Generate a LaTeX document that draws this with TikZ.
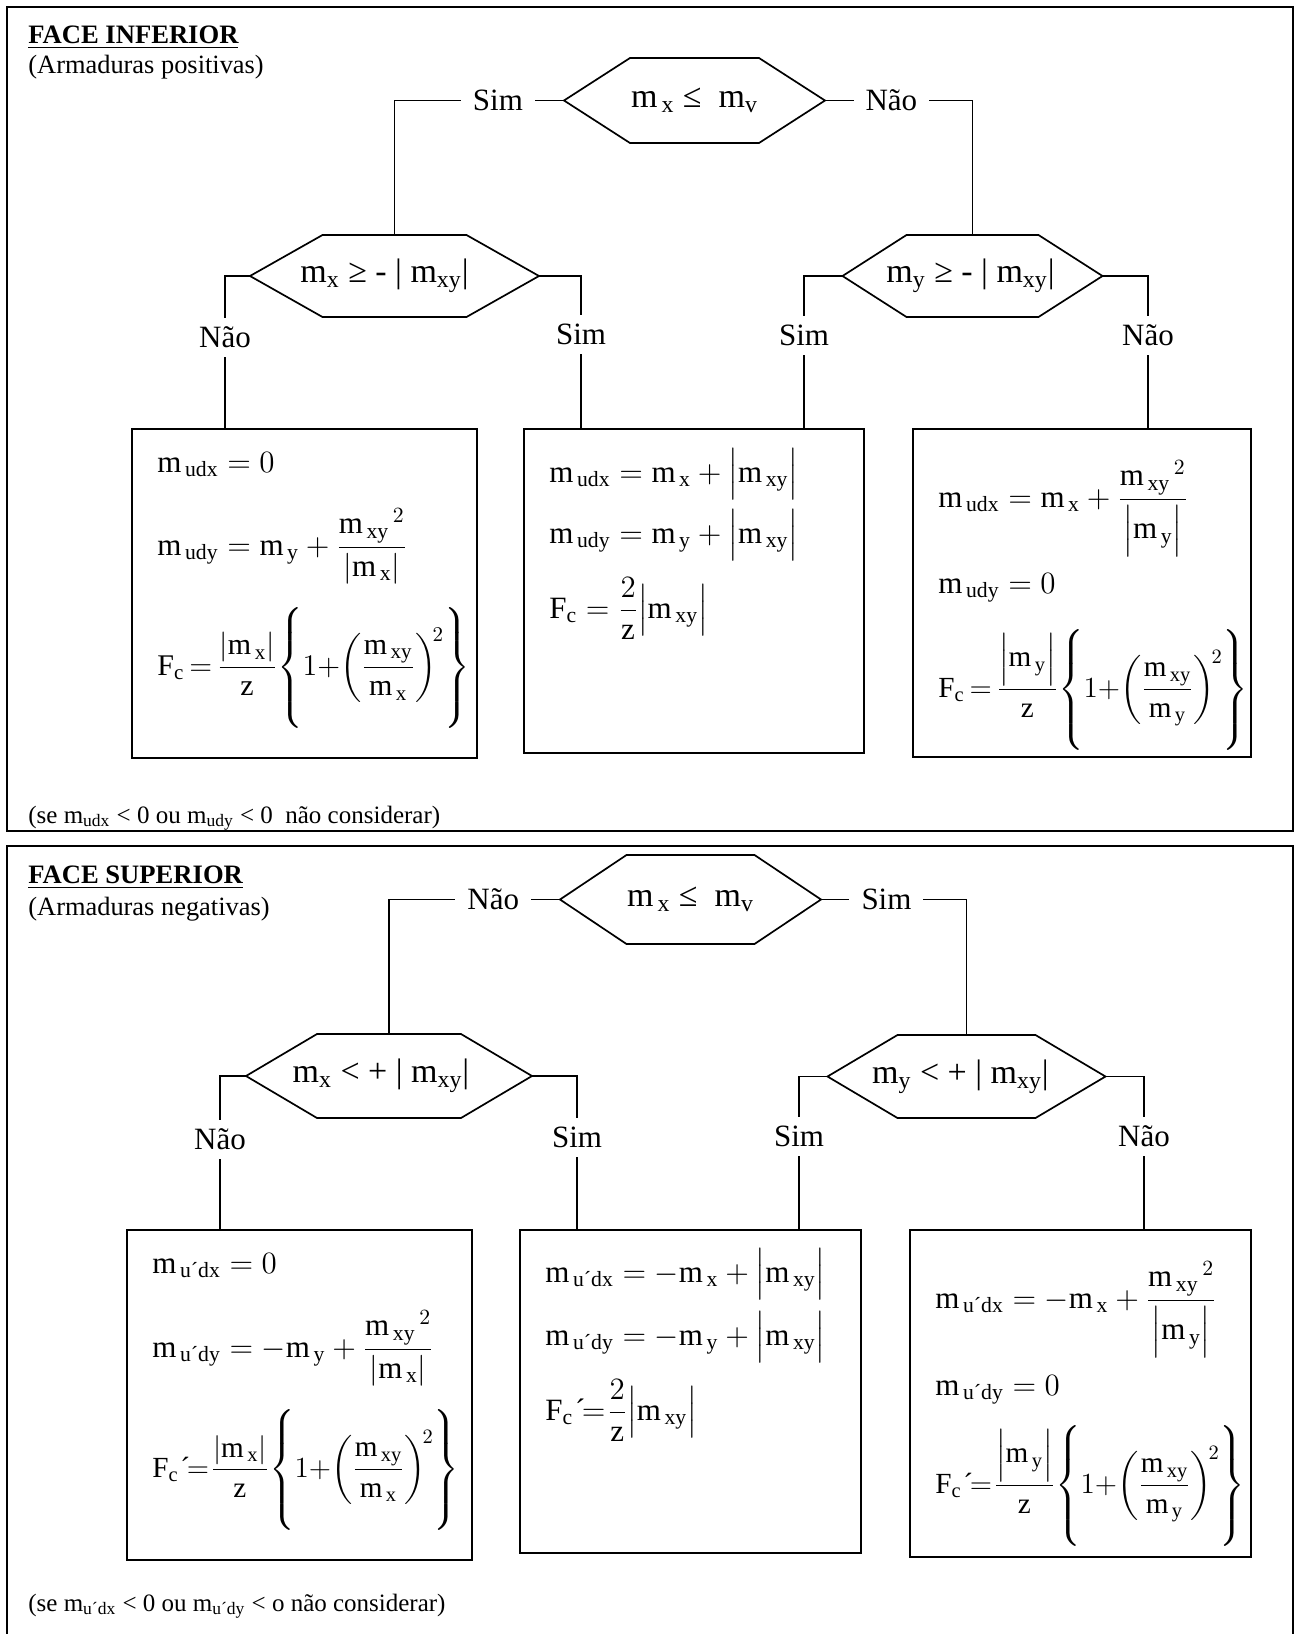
\RequirePackage{fix-cm}
\documentclass[tikz,border=0pt]{standalone}
\usepackage{amsmath}
\usepackage{fontspec}
\setmainfont{Liberation Serif}
\usetikzlibrary{calc}

% upright moment symbols with subscripts
\newcommand\mv[1]{\mathrm{m}_{\,\mathrm{#1}}}
\newcommand\mq[1]{\mathrm{m}_{\,\text{#1}}}
\newcommand\Fc{\mathrm{F}_{\mathrm{c}}}
\newcommand\Fcp{\mathrm{F}_{\mathrm{c}}\mkern1mu\text{´}\mkern-2mu{=}\mkern1mu}
\newcommand\tallbrace{\vrule height 27pt depth 27pt width 0pt}
\newcommand\tight{\thickmuskip=3mu\relax\medmuskip=2mu\relax}
% compact brace term  {1+(a/b)^2}
\newcommand\bracket[2]{\!\left\{\tallbrace 1{+}\!\left(\dfrac{#1}{#2}\right)^{\!2}\right\}}

% decision hexagon: name, cx, cy, half top edge, half tip span, half height, text, text shift
\newcommand\hexnode[8]{%
  \draw[hexline] ({#2-#4},{#3-#6}) -- ({#2+#4},{#3-#6}) -- ({#2+#5},#3)
     -- ({#2+#4},{#3+#6}) -- ({#2-#4},{#3+#6}) -- ({#2-#5},#3) -- cycle;
  \node[hextext] (#1) at ({#2+#8},#3) {#7};
  \coordinate (#1-W) at ({#2-#5},#3);
  \coordinate (#1-E) at ({#2+#5},#3);
  \coordinate (#1-N) at (#2,{#3-#6});}

% result box: name, x1, y1, x2, y2
\newcommand\resbox[5]{%
  \node[resultbox, anchor=north west, minimum width={(#4-#2)*0.5pt},
        minimum height={(#5-#3)*0.5pt}] (#1) at (#2,#3) {};}

\tikzset{
  frameline/.style={line width=1.1pt},
  wire/.style={line width=0.85pt},
  hexline/.style={line width=0.85pt, line join=miter},
  hextext/.style={inner sep=0pt, font=\fontsize{17}{20}\selectfont},
  resultbox/.style={draw, line width=1pt, inner sep=0pt, outer sep=0pt},
  lbl/.style={fill=white, inner xsep=6pt, inner ysep=4.5pt, font=\fontsize{15.5}{18}\selectfont},
  eq/.style={anchor=base west, inner sep=0pt, font=\fontsize{15.5}{19}\selectfont},
  eqs/.style={anchor=base west, inner sep=0pt, font=\fontsize{15}{19}\selectfont},
  eqss/.style={anchor=base west, inner sep=0pt, font=\fontsize{14.6}{19}\selectfont},
  hd/.style={anchor=base west, inner sep=0pt, font=\fontsize{13.3}{16}\selectfont\bfseries},
  subhd/.style={anchor=base west, inner sep=0pt, font=\fontsize{13.2}{16}\selectfont},
  remark/.style={anchor=base west, inner sep=0pt, font=\fontsize{12.5}{15}\selectfont},
}

\begin{document}
\begin{tikzpicture}[x=0.5pt,y=-0.5pt]
\useasboundingbox (0,0) rectangle (1299,1634);

% ---------------- frames ----------------
\draw[frameline] (7,7) rectangle (1293,831);
\draw[frameline] (7,1634) -- (7,846) -- (1293,846) -- (1293,1634);

% ================= FACE INFERIOR =================
\node[hd] (h1) at (28,43) {\underline{FACE INFERIOR}};
\node[subhd] (s1) at (28,73) {(Armaduras positivas)};

\hexnode{T1}{694.5}{100.5}{64.5}{130.5}{42.5}{m\textsubscript{\,x} ≤ \ m\textsubscript{v}}{0}
\hexnode{L1}{394.5}{276}{72}{144.5}{41}{m\textsubscript{x} ≥ - | m\textsubscript{xy}|}{-10}
\hexnode{R1}{972.5}{276}{66}{130}{41}{m\textsubscript{y} ≥ - | m\textsubscript{xy}|}{-2}

\resbox{B1}{132}{429}{477}{758}
\resbox{B2}{524}{429}{864}{753}
\resbox{B3}{913}{429}{1251}{757}

\coordinate (xa) at (225,0);
\coordinate (xb) at (581,0);
\coordinate (xc) at (804,0);
\coordinate (xd) at (1148,0);

\draw[wire] (T1-W) -- node[lbl,pos=0.39]{Sim} (T1-W -| L1-N) -- (L1-N);
\draw[wire] (T1-E) -- node[lbl,pos=0.45]{Não} (T1-E -| R1-N) -- (R1-N);
\draw[wire] (L1-W) -- (L1-W -| xa) -- node[lbl,pos=0.40]{Não} (xa |- B1.north);
\draw[wire] (L1-E) -- (L1-E -| xb) -- node[lbl,pos=0.38]{Sim} (xb |- B2.north);
\draw[wire] (R1-W) -- (R1-W -| xc) -- node[lbl,pos=0.39]{Sim} (xc |- B2.north);
\draw[wire] (R1-E) -- (R1-E -| xd) -- node[lbl,pos=0.39]{Não} (xd |- B3.north);

% box 1
\node[eq] (e11) at (157,472) {$\mv{udx} = 0$};
\node[eq] (e12) at (157,555) {$\mv{udy} = \mv{y} + \dfrac{{\mv{xy}}^{\,2}}{\left|\mv{x}\right|}$};
\node[eqs] (e13) at (157,675) {$\tight\Fc = \dfrac{\left|\mv{x}\right|}{\mathrm{z}}\bracket{\mv{xy}}{\mv{x}}$};
% box 2
\node[eq] (e21) at (549,482) {$\mv{udx} = \mv{x} + \Bigl|\mv{xy}\Bigr|$};
\node[eq] (e22) at (549,543) {$\mv{udy} = \mv{y} + \Bigl|\mv{xy}\Bigr|$};
\node[eq] (e23) at (549,618) {$\Fc = \dfrac{2}{\mathrm{z}}\Bigl|\mv{xy}\Bigr|$};
% box 3
\node[eq] (e31) at (938,507) {$\mv{udx} = \mv{x} + \dfrac{{\mv{xy}}^{\,2}}{\Bigl|\mv{y}\Bigr|}$};
\node[eq] (e32) at (938,593) {$\mv{udy} = 0$};
\node[eqss] (e33) at (938,697) {$\tight\Fc = \dfrac{\Bigl|\mv{y}\Bigr|}{\mathrm{z}}\bracket{\mv{xy}}{\mv{y}}$};

\node[remark] (n1) at (28,823) {(se m\textsubscript{udx} < 0 ou m\textsubscript{udy} < 0\ \ não considerar)};

% ================= FACE SUPERIOR =================
\node[hd] (h2) at (28,883) {\underline{FACE SUPERIOR}};
\node[subhd] (s2) at (28,915) {(Armaduras negativas)};

\hexnode{T2}{690.5}{899.5}{64}{130.5}{44.5}{m\textsubscript{\,x} ≤ \ m\textsubscript{v}}{0}
\hexnode{L2}{389}{1076}{72}{143}{42}{m\textsubscript{x} < + | m\textsubscript{xy}|}{-8}
\hexnode{R2}{966.5}{1076.5}{69}{139}{41.5}{m\textsubscript{y} < + | m\textsubscript{xy}|}{-6}

\resbox{B4}{127}{1230}{472}{1560}
\resbox{B5}{520}{1230}{861}{1553}
\resbox{B6}{910}{1230}{1251}{1557}

\coordinate (xe) at (220,0);
\coordinate (xf) at (577,0);
\coordinate (xg) at (799,0);
\coordinate (xh) at (1144,0);

\draw[wire] (T2-W) -- node[lbl,pos=0.39]{Não} (T2-W -| L2-N) -- (L2-N);
\draw[wire] (T2-E) -- node[lbl,pos=0.45]{Sim} (T2-E -| R2-N) -- (R2-N);
\draw[wire] (L2-W) -- (L2-W -| xe) -- node[lbl,pos=0.41]{Não} (xe |- B4.north);
\draw[wire] (L2-E) -- (L2-E -| xf) -- node[lbl,pos=0.40]{Sim} (xf |- B5.north);
\draw[wire] (R2-W) -- (R2-W -| xg) -- node[lbl,pos=0.39]{Sim} (xg |- B5.north);
\draw[wire] (R2-E) -- (R2-E -| xh) -- node[lbl,pos=0.39]{Não} (xh |- B6.north);

% box 4
\node[eq] (e41) at (152,1273) {$\mq{u´dx} = 0$};
\node[eq] (e42) at (152,1357) {$\mq{u´dy} = -\mv{y} + \dfrac{{\mv{xy}}^{\,2}}{\left|\mv{x}\right|}$};
\node[eqss] (e43) at (152,1477) {$\tight\Fcp\dfrac{\left|\mv{x}\right|}{\mathrm{z}}\bracket{\mv{xy}}{\mv{x}}$};
% box 5
\node[eq] (e51) at (545,1282) {$\mq{u´dx} = -\mv{x} + \Bigl|\mv{xy}\Bigr|$};
\node[eq] (e52) at (545,1345) {$\mq{u´dy} = -\mv{y} + \Bigl|\mv{xy}\Bigr|$};
\node[eq] (e53) at (545,1420) {$\Fcp\dfrac{2}{\mathrm{z}}\Bigl|\mv{xy}\Bigr|$};
% box 6
\node[eq] (e61) at (935,1308) {$\mq{u´dx} = -\mv{x} + \dfrac{{\mv{xy}}^{\,2}}{\Bigl|\mv{y}\Bigr|}$};
\node[eq] (e62) at (935,1395) {$\mq{u´dy} = 0$};
\node[eqss] (e63) at (935,1493) {$\tight\Fcp\dfrac{\Bigl|\mv{y}\Bigr|}{\mathrm{z}}\bracket{\mv{xy}}{\mv{y}}$};

\node[remark] (n2) at (28,1611) {(se m\textsubscript{u´dx} < 0 ou m\textsubscript{u´dy} < o não considerar)};
\end{tikzpicture}
\end{document}
